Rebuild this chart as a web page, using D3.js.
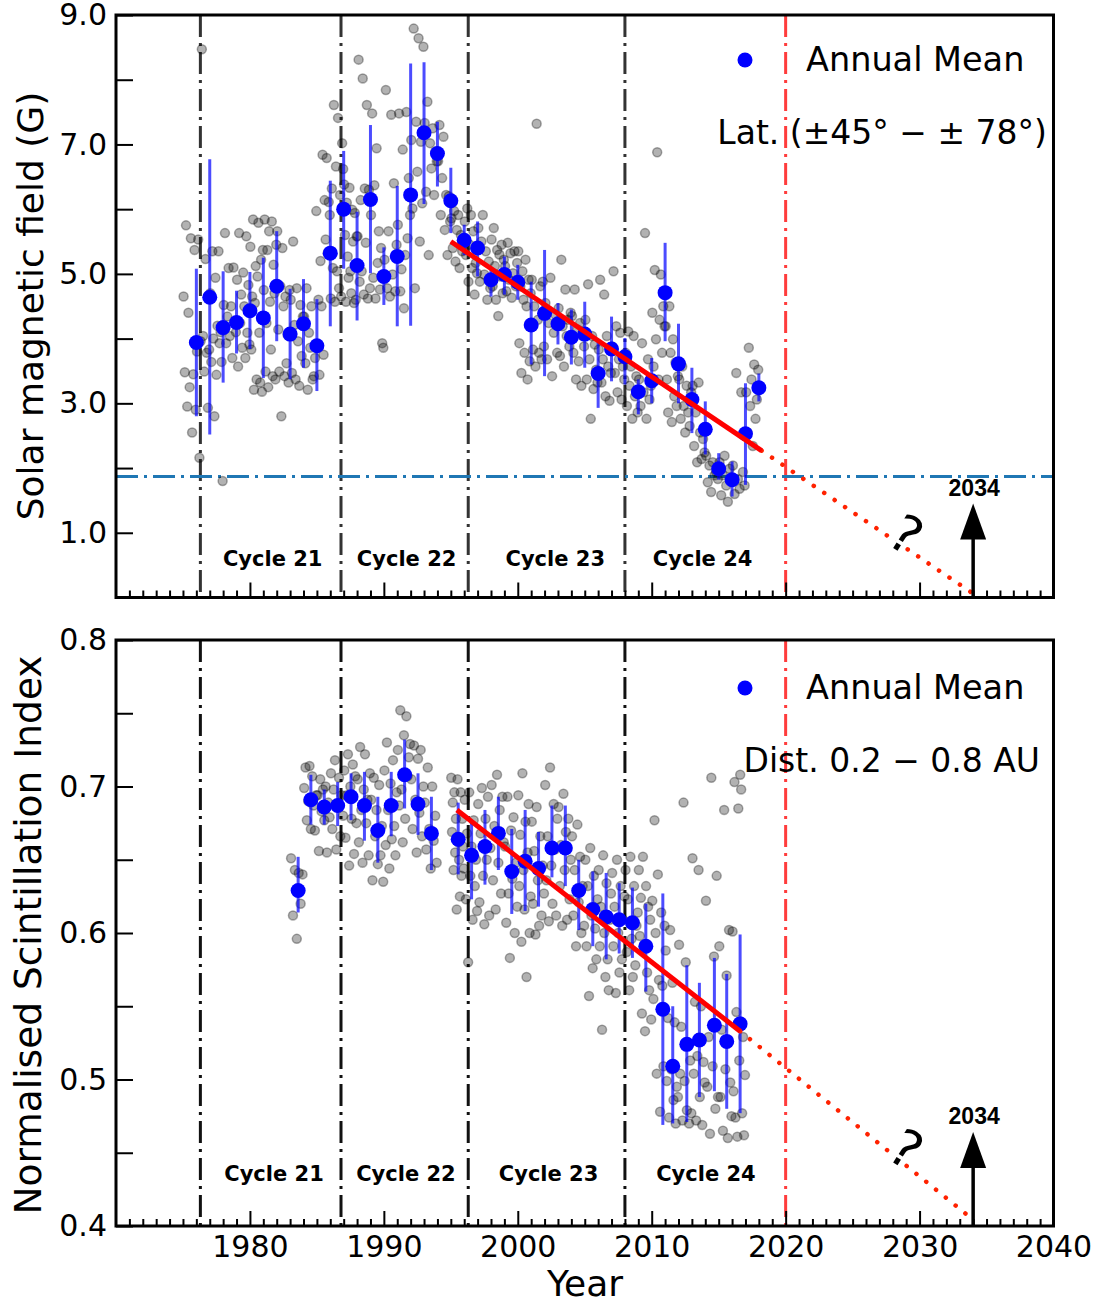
<!DOCTYPE html>
<html>
<head>
<meta charset="utf-8">
<script src="https://cdn.jsdelivr.net/npm/d3@7"></script>
<style>
  body { margin: 0; background: #fff; }
  text { font-family: "DejaVu Sans"; }
</style>
</head>
<body>
<div id="chart"></div>
<script>
// ---------------- data ----------------

// cycle minima and the 2020 marker
var cycleBounds = [1976.3, 1986.8, 1996.3, 2008.0];
var nowYear = 2020;
var cycleNames = ["Cycle 21", "Cycle 22", "Cycle 23", "Cycle 24"];

// top panel: solar polar field, annual means with error bars
var fieldYears = [1976, 1977, 1978, 1979, 1980, 1981, 1982, 1983, 1984, 1985,
  1986, 1987, 1988, 1989, 1990, 1991, 1992, 1993, 1994, 1995,
  1996, 1997, 1998, 1999, 2000, 2001, 2002, 2003, 2004, 2005,
  2006, 2007, 2008, 2009, 2010, 2011, 2012, 2013, 2014, 2015,
  2016, 2017, 2018];
var fieldMean = [3.94, 4.64, 4.17, 4.25, 4.43, 4.32, 4.81, 4.07, 4.23, 3.89,
  5.32, 6.00, 5.13, 6.15, 4.96, 5.27, 6.22, 7.18, 6.86, 6.13,
  5.52, 5.40, 4.91, 4.99, 4.87, 4.21, 4.39, 4.23, 4.02, 4.07,
  3.46, 3.84, 3.72, 3.18, 3.35, 4.71, 3.61, 3.06, 2.60, 1.99,
  1.82, 2.53, 3.24];
var fieldLow = [2.80, 2.52, 3.32, 3.77, 3.84, 3.39, 3.96, 3.37, 3.55, 3.19,
  4.19, 5.08, 4.28, 5.01, 4.52, 4.19, 4.20, 6.08, 6.35, 5.63,
  5.29, 4.96, 4.65, 4.68, 4.60, 3.60, 3.42, 3.91, 3.60, 3.55,
  2.93, 3.34, 3.29, 2.83, 3.00, 3.96, 3.00, 2.54, 2.21, 1.82,
  1.56, 1.74, 3.03];
var fieldHigh = [5.08, 6.77, 5.04, 4.74, 5.03, 5.25, 5.66, 4.77, 4.92, 4.61,
  6.44, 6.90, 5.96, 7.30, 5.41, 6.36, 8.25, 8.27, 7.35, 6.64,
  5.76, 5.81, 5.09, 5.27, 5.14, 4.88, 5.37, 4.55, 4.45, 4.57,
  3.98, 4.34, 4.01, 3.37, 3.70, 5.48, 4.23, 3.55, 3.03, 2.23,
  2.10, 3.31, 3.46];

// top panel: per-rotation values, one list per year starting 1975
var fieldScatterStart = 1975;
var fieldScatter = [
  [4.65, 3.48, 5.75, 2.95, 4.4, 3.25, 5.55, 2.55, 3.45, 5.37, 2.9],
  [3.8, 5.53, 2.16, 3.96, 8.47, 4.04, 3.49, 5.23, 3.78, 2.93, 3.83],
  [4.7, 3.64, 5.35, 4.0, 2.8, 4.94, 3.44, 4.2, 5.35, 3.93, 4.1, 3.64, 1.8],
  [4.52, 5.63, 3.93, 4.34, 5.09, 4.04, 4.5, 3.7, 5.1, 4.24, 4.1],
  [4.91, 3.57, 5.63, 4.24, 4.68, 3.86, 5.02, 4.5, 3.7, 5.58, 4.09, 4.83, 3.91],
  [5.42, 3.83, 4.65, 5.84, 3.21, 4.55, 5.12, 3.37, 4.96, 5.79, 4.09, 3.32, 5.22, 3.18, 5.37],
  [4.75, 5.84, 3.49, 4.24, 5.37, 3.25, 5.66, 4.57, 3.83, 5.81, 3.42, 5.14, 4.7, 3.37, 5.45],
  [5.66, 4.14, 3.49, 4.81, 2.8, 5.4, 4.5, 3.42, 4.65, 3.62, 4.06, 3.32, 4.75],
  [4.6, 3.47, 5.5, 4.21, 3.37, 4.78, 3.96, 3.27, 4.52, 3.73, 4.34],
  [4.34, 3.62, 4.78, 3.21, 4.09, 3.86, 4.5, 3.37, 3.42, 3.7, 5.97],
  [3.88, 4.6, 3.44, 5.2, 4.5, 6.84, 3.75, 6.14, 5.53, 6.79, 5.32, 6.11, 5.91],
  [4.62, 6.32, 5.09, 7.61, 4.57, 6.66, 5.04, 7.41, 4.78, 6.22, 4.65, 7.02, 6.62],
  [6.38, 5.6, 4.57, 6.1, 5.27, 4.94, 6.33, 5.04, 4.7, 5.99, 5.5, 4.55, 5.94, 4.6, 5.58],
  [5.58, 8.31, 4.88, 6.14, 5.04, 8.02, 4.68, 6.32, 5.48, 7.61, 4.62, 6.3, 4.78],
  [5.91, 7.48, 4.94, 6.37, 4.62, 6.94, 5.17, 5.66, 4.76, 5.4, 3.93, 3.86],
  [5.22, 7.84, 4.78, 5.66, 4.65, 7.46, 4.99, 6.4, 4.73, 5.45],
  [5.76, 7.48, 4.73, 5.07, 6.92, 4.47, 5.29, 7.5, 5.55, 6.48, 5.91],
  [7.07, 6.01, 8.79, 4.78, 7.35, 6.58, 8.64, 5.5, 7.04, 6.09, 8.51],
  [7.33, 6.27, 7.66, 5.29, 7.02, 6.63, 7.25, 6.22, 6.89, 6.74],
  [6.74, 7.3, 5.91, 6.48, 7.12, 5.68, 6.22, 5.29, 6.2, 5.81],
  [5.86, 5.4, 5.97, 5.19, 5.68, 5.91, 5.09, 5.6, 5.35, 5.45],
  [5.81, 5.29, 6.01, 4.88, 5.45, 5.91, 5.09, 5.66, 4.68, 5.17, 5.01],
  [5.71, 4.88, 5.5, 5.91, 4.99, 5.35, 4.6, 5.19, 4.78],
  [5.53, 4.81, 5.71, 5.12, 4.6, 5.37, 4.35, 5.3, 4.96, 5.45, 4.7, 5.22],
  [5.12, 4.73, 5.48, 4.91, 5.32, 4.63, 5.01, 5.35, 4.81, 5.17],
  [5.35, 3.93, 4.81, 3.47, 5.04, 4.6, 3.78, 5.22, 4.5, 3.37, 4.91, 3.65, 4.7],
  [4.91, 3.83, 4.5, 3.57, 7.32, 4.29, 3.78, 4.81, 3.68, 4.88, 3.88],
  [4.55, 3.68, 4.24, 4.94, 3.42, 4.09, 4.37, 3.78],
  [4.47, 3.73, 5.22, 4.19, 3.57, 4.76, 4.04, 4.29, 3.88, 4.4],
  [4.35, 3.78, 4.76, 3.37, 4.14, 3.65, 4.24, 3.27, 4.04, 3.88],
  [4.29, 3.37, 4.84, 3.68, 2.76, 4.04, 3.22, 3.91, 3.52, 3.32],
  [3.83, 4.91, 3.32, 3.68, 4.68, 3.11, 4.04, 3.57, 3.04, 3.47],
  [3.88, 5.04, 3.47, 4.19, 3.17, 3.68, 4.09, 3.06, 3.57, 3.37],
  [3.78, 2.96, 4.11, 3.27, 3.57, 2.76, 4.04, 3.11, 3.42, 2.86],
  [3.37, 2.96, 3.93, 3.17, 5.63, 2.76, 3.68, 3.06, 3.27],
  [4.4, 3.57, 5.06, 3.99, 6.88, 3.37, 4.29, 4.99, 3.78, 4.5, 4.19],
  [4.19, 3.37, 2.86, 4.5, 3.78, 2.71, 3.99, 3.11, 3.63, 2.96, 3.42],
  [3.37, 2.76, 3.57, 2.96, 2.55, 3.27, 2.86, 2.65, 3.17],
  [3.27, 2.34, 2.86, 2.09, 3.32, 2.55, 2.14, 2.45, 2.24],
  [2.19, 1.78, 2.04, 1.63, 2.09, 1.89, 1.94, 1.83],
  [2.09, 1.58, 1.89, 2.19, 1.73, 1.48, 1.99, 1.83],
  [2.04, 1.6, 3.47, 1.83, 1.68, 3.17, 1.94, 1.73],
  [3.17, 2.55, 3.86, 2.96, 3.37, 2.34, 3.6, 2.76, 3.06, 3.52]
];

// top panel: linear fit and its extrapolation to 2034
var fieldFit = [[1995.0, 5.50], [2018.2, 2.27]];
var fieldFitExt = [[2018.2, 2.27], [2034.0, 0.06]];
var fieldThreshold = 1.87;

// bottom panel: normalised scintillation index
var sciYears = [1983.6, 1984.55, 1985.55, 1986.55, 1987.55, 1988.55, 1989.55, 1990.55,
  1991.55, 1992.55, 1993.55, 1995.55, 1996.55, 1997.55, 1998.55, 1999.55, 2000.55,
  2001.55, 2002.55, 2003.55, 2004.55, 2005.6, 2006.6, 2007.57, 2008.56, 2009.56,
  2010.83, 2011.57, 2012.62, 2013.56, 2014.68, 2015.6, 2016.6];
var sciMean = [0.629, 0.691, 0.686, 0.687, 0.693, 0.687, 0.670, 0.687, 0.708, 0.688,
  0.668, 0.664, 0.653, 0.659, 0.668, 0.642, 0.649, 0.644, 0.658, 0.658, 0.629,
  0.616, 0.611, 0.609, 0.607, 0.591, 0.548, 0.509, 0.524, 0.527, 0.537, 0.526, 0.538];
var sciLow = [0.614, 0.674, 0.674, 0.673, 0.677, 0.663, 0.648, 0.666, 0.685, 0.667,
  0.643, 0.640, 0.623, 0.633, 0.643, 0.613, 0.615, 0.618, 0.638, 0.632, 0.602,
  0.591, 0.582, 0.586, 0.583, 0.560, 0.469, 0.470, 0.471, 0.488, 0.492, 0.480, 0.477];
var sciHigh = [0.652, 0.708, 0.698, 0.703, 0.709, 0.710, 0.693, 0.710, 0.732, 0.709,
  0.693, 0.689, 0.677, 0.684, 0.693, 0.671, 0.684, 0.669, 0.687, 0.687, 0.650,
  0.642, 0.641, 0.634, 0.631, 0.620, 0.627, 0.550, 0.578, 0.566, 0.583, 0.572, 0.599];

var sciScatterStart = 1983;
var sciScatter = [
  [0.651, 0.612, 0.643, 0.596, 0.641, 0.62, 0.64],
  [0.699, 0.713, 0.677, 0.69, 0.714, 0.671, 0.707, 0.687, 0.67, 0.694],
  [0.694, 0.656, 0.705, 0.683, 0.698, 0.677, 0.7, 0.655, 0.689, 0.679],
  [0.709, 0.671, 0.698, 0.718, 0.657, 0.687, 0.706, 0.666, 0.694, 0.68],
  [0.711, 0.665, 0.694, 0.722, 0.646, 0.7, 0.678, 0.715, 0.654, 0.707, 0.675],
  [0.705, 0.662, 0.727, 0.684, 0.648, 0.698, 0.722, 0.675, 0.691, 0.653, 0.709],
  [0.691, 0.636, 0.706, 0.666, 0.684, 0.647, 0.701, 0.653, 0.673, 0.635],
  [0.711, 0.66, 0.73, 0.684, 0.644, 0.702, 0.664, 0.718, 0.673, 0.653, 0.696],
  [0.725, 0.687, 0.752, 0.698, 0.662, 0.735, 0.678, 0.748, 0.707, 0.72, 0.729],
  [0.705, 0.671, 0.728, 0.691, 0.655, 0.719, 0.682, 0.725, 0.666, 0.7],
  [0.689, 0.657, 0.713, 0.671, 0.644, 0.7, 0.663, 0.68, 0.648],
  [],
  [0.706, 0.669, 0.689, 0.643, 0.696, 0.655, 0.678, 0.616, 0.705, 0.662, 0.65, 0.625, 0.696, 0.639, 0.678, 0.659, 0.644],
  [0.691, 0.623, 0.668, 0.58, 0.696, 0.639, 0.659, 0.609, 0.677, 0.632, 0.65, 0.615],
  [0.688, 0.621, 0.668, 0.699, 0.639, 0.606, 0.678, 0.65, 0.693, 0.612, 0.658],
  [0.701, 0.636, 0.673, 0.616, 0.708, 0.648, 0.684, 0.627, 0.693, 0.662],
  [0.659, 0.607, 0.693, 0.627, 0.583, 0.67, 0.637, 0.679, 0.6, 0.648, 0.618],
  [0.694, 0.632, 0.667, 0.594, 0.709, 0.643, 0.616, 0.676, 0.57, 0.655, 0.688, 0.6, 0.625],
  [0.676, 0.62, 0.656, 0.599, 0.686, 0.636, 0.605, 0.666, 0.612, 0.646, 0.627],
  [0.701, 0.636, 0.666, 0.608, 0.713, 0.646, 0.62, 0.688, 0.657, 0.612, 0.678],
  [0.686, 0.632, 0.66, 0.605, 0.695, 0.643, 0.669, 0.609, 0.678, 0.623, 0.65],
  [0.666, 0.612, 0.643, 0.591, 0.674, 0.621, 0.652, 0.6, 0.632, 0.605],
  [0.65, 0.591, 0.632, 0.557, 0.658, 0.612, 0.576, 0.639, 0.603, 0.582, 0.623],
  [0.643, 0.591, 0.618, 0.534, 0.653, 0.6, 0.57, 0.634, 0.582, 0.561, 0.609, 0.627],
  [0.641, 0.591, 0.618, 0.559, 0.65, 0.6, 0.573, 0.632, 0.582, 0.609, 0.625],
  [0.643, 0.587, 0.623, 0.561, 0.652, 0.596, 0.57, 0.632, 0.578, 0.605, 0.614],
  [0.643, 0.598, 0.624, 0.545, 0.652, 0.591, 0.533, 0.632, 0.573, 0.618, 0.561, 0.609, 0.541],
  [0.622, 0.555, 0.677, 0.6, 0.504, 0.64, 0.568, 0.478, 0.614, 0.564, 0.509, 0.605],
  [0.588, 0.499, 0.542, 0.474, 0.602, 0.507, 0.566, 0.486, 0.539, 0.47, 0.495, 0.488],
  [0.592, 0.504, 0.536, 0.472, 0.689, 0.499, 0.58, 0.479, 0.523, 0.47, 0.513, 0.477],
  [0.651, 0.504, 0.553, 0.472, 0.516, 0.643, 0.488, 0.55, 0.469, 0.512, 0.498],
  [0.622, 0.495, 0.529, 0.463, 0.706, 0.509, 0.584, 0.48, 0.639, 0.488],
  [0.591, 0.488, 0.534, 0.465, 0.684, 0.507, 0.571, 0.46, 0.602, 0.498, 0.475],
  [0.601, 0.492, 0.703, 0.474, 0.546, 0.461, 0.685, 0.513, 0.708, 0.698, 0.477, 0.529, 0.462, 0.503]
];

var sciFit = [[1995.45, 0.684], [2016.6, 0.533]];
var sciFitExt = [[2016.6, 0.533], [2033.9, 0.405]];

// ---------------- layout ----------------
var svgWidth = 1097;
var svgHeight = 1306;
var plotLeft = 116;
var plotRight = 1053.5;

var svg = d3
  .select("#chart")
  .append("svg")
  .attr("width", svgWidth)
  .attr("height", svgHeight)
  .style("background", "#fff");

var xScale = d3.scaleLinear().domain([1970, 2040]).range([plotLeft, plotRight]);

var majorYears = d3.range(1980, 2041, 10);
var minorYears = d3.range(1971, 2040).filter(function(d) { return d % 10 !== 0; });

/**
* Draw one panel: guides, scatter, annual means, fit and axes
*/
function drawPanel(p) {
  var y = p.y;
  var yBottom = y.range()[0];
  var yTop = y.range()[1];
  var g = svg.append("g");

  // cycle boundaries
  g.selectAll(".cycleLine")
    .data(cycleBounds)
    .enter()
    .append("line")
    .attr("x1", function(d) { return xScale(d); })
    .attr("x2", function(d) { return xScale(d); })
    .attr("y1", yTop)
    .attr("y2", yBottom)
    .attr("stroke", p.cycleColor)
    .attr("stroke-width", 3)
    .attr("stroke-dasharray", "22,6,3,6");

  // 2020 marker
  g.append("line")
    .attr("x1", xScale(nowYear))
    .attr("x2", xScale(nowYear))
    .attr("y1", yTop)
    .attr("y2", yBottom)
    .attr("stroke", "#ff1a1a")
    .attr("stroke-opacity", 0.85)
    .attr("stroke-width", 3)
    .attr("stroke-dasharray", "22,6,3,6");

  if (p.threshold !== undefined) {
    g.append("line")
      .attr("x1", plotLeft)
      .attr("x2", plotRight)
      .attr("y1", y(p.threshold))
      .attr("y2", y(p.threshold))
      .attr("stroke", "#1f77b4")
      .attr("stroke-width", 3)
      .attr("stroke-dasharray", "22,6,3,6");
  }

  // cycle labels
  g.selectAll(".cycleText")
    .data(p.cycleLabelYears)
    .enter()
    .append("text")
    .attr("x", function(d) { return xScale(d); })
    .attr("y", yBottom - p.cycleLabelOffset)
    .attr("text-anchor", "middle")
    .attr("font-size", 21)
    .attr("font-weight", "bold")
    .text(function(d, i) { return cycleNames[i]; });

  // per-rotation points, spread evenly through each year
  var pts = [];
  p.scatter.forEach(function(vals, i) {
    var yr = p.scatterStart + i;
    vals.forEach(function(v, j) {
      pts.push({ t: yr + (j + 0.5) / vals.length, v: v });
    });
  });
  g.selectAll(".dot")
    .data(pts)
    .enter()
    .append("circle")
    .attr("cx", function(d) { return xScale(d.t); })
    .attr("cy", function(d) { return y(d.v); })
    .attr("r", 4.5)
    .attr("fill", "#000")
    .attr("fill-opacity", 0.3)
    .attr("stroke", "#000")
    .attr("stroke-opacity", 0.32)
    .attr("stroke-width", 1.5);

  // error bars
  g.selectAll(".err")
    .data(p.years)
    .enter()
    .append("line")
    .attr("x1", function(d) { return xScale(d); })
    .attr("x2", function(d) { return xScale(d); })
    .attr("y1", function(d, i) { return y(p.low[i]); })
    .attr("y2", function(d, i) { return y(p.high[i]); })
    .attr("stroke", "#0000ff")
    .attr("stroke-opacity", 0.7)
    .attr("stroke-width", 3);

  // annual means
  g.selectAll(".mean")
    .data(p.years)
    .enter()
    .append("circle")
    .attr("cx", function(d) { return xScale(d); })
    .attr("cy", function(d, i) { return y(p.mean[i]); })
    .attr("r", 7.5)
    .attr("fill", "#0000ff");

  // fit and extrapolation
  var line = d3.line()
    .x(function(d) { return xScale(d[0]); })
    .y(function(d) { return y(d[1]); });

  g.append("path")
    .attr("d", line(p.fitExt))
    .attr("fill", "none")
    .attr("stroke", "#ff2200")
    .attr("stroke-width", 4.5)
    .attr("stroke-linecap", "round")
    .attr("stroke-dasharray", "0.1,12.5");

  g.append("path")
    .attr("d", line(p.fit))
    .attr("fill", "none")
    .attr("stroke", "#ff0000")
    .attr("stroke-width", 5);

  // question mark on the extrapolation
  g.append("text")
    .attr("transform", "translate(" + xScale(2029) + "," + (yBottom - p.qOffset) + ") rotate(32)")
    .attr("text-anchor", "middle")
    .attr("dy", "0.35em")
    .attr("font-size", 52)
    .attr("stroke", "#fff")
    .attr("stroke-width", 4)
    .attr("paint-order", "stroke")
    .text("?");

  // arrow pointing at 2034
  var ax = xScale(2034);
  g.append("line")
    .attr("x1", ax)
    .attr("x2", ax)
    .attr("y1", yBottom)
    .attr("y2", yBottom - 60)
    .attr("stroke", "#000")
    .attr("stroke-width", 3.5);
  g.append("path")
    .attr("d", "M" + ax + "," + (yBottom - 94) + "L" + (ax + 13) + "," + (yBottom - 58) +
      "L" + (ax - 13) + "," + (yBottom - 58) + "Z")
    .attr("fill", "#000");
  g.append("text")
    .attr("x", ax + 1)
    .attr("y", yBottom - 102)
    .attr("text-anchor", "middle")
    .attr("font-weight", "bold")
    .attr("font-size", 23)
    .style("font-family", "Liberation Sans")
    .text("2034");

  // legend
  g.append("circle")
    .attr("cx", 745)
    .attr("cy", yTop + p.legendOffset)
    .attr("r", 7.5)
    .attr("fill", "#0000ff");
  g.append("text")
    .attr("x", 806)
    .attr("y", yTop + p.legendOffset + 11)
    .attr("font-size", 33.5)
    .text("Annual Mean");
  g.append("text")
    .attr("x", p.noteRight)
    .attr("y", yTop + p.legendOffset + 84)
    .attr("text-anchor", "end")
    .attr("font-size", 33)
    .text(p.note);

  // axes with inward ticks
  var xMajor = d3.axisBottom(xScale).tickValues(majorYears).tickSize(-15).tickPadding(10)
    .tickFormat(p.showYears ? d3.format("d") : function() { return ""; });
  var xMinor = d3.axisBottom(xScale).tickValues(minorYears).tickSize(-7).tickFormat("");
  var yAxis = d3.axisLeft(y).tickValues(p.yTicks).tickSize(-17).tickPadding(9)
    .tickFormat(p.yFormat);

  [xMajor, xMinor].forEach(function(ax) {
    svg.append("g")
      .attr("class", "axis")
      .attr("transform", "translate(0," + yBottom + ")")
      .call(ax);
  });
  svg.append("g")
    .attr("class", "axis")
    .attr("transform", "translate(" + plotLeft + ",0)")
    .call(yAxis);

  // frame
  svg.append("rect")
    .attr("x", plotLeft)
    .attr("y", yTop)
    .attr("width", plotRight - plotLeft)
    .attr("height", yBottom - yTop)
    .attr("fill", "none")
    .attr("stroke", "#000")
    .attr("stroke-width", 3);

  // y title
  svg.append("text")
    .attr("transform", "translate(" + p.titleX + "," + p.titleY + ") rotate(-90)")
    .attr("text-anchor", "middle")
    .attr("dy", "0.35em")
    .attr("font-size", p.titleSize)
    .text(p.title);
}

var yField = d3.scaleLinear().domain([0, 9]).range([597.5, 15]);
var ySci = d3.scaleLinear().domain([0.4, 0.8]).range([1226, 640]);

drawPanel({
  y: yField,
  years: fieldYears, mean: fieldMean, low: fieldLow, high: fieldHigh,
  scatter: fieldScatter, scatterStart: fieldScatterStart,
  fit: fieldFit, fitExt: fieldFitExt,
  threshold: fieldThreshold,
  cycleColor: "#333",
  cycleLabelYears: [1981.7, 1991.7, 2002.8, 2013.8],
  cycleLabelOffset: 32,
  qOffset: 63,
  legendOffset: 45,
  note: "Lat. (\u00b145\u00b0 \u2212 \u00b1 78\u00b0)",
  noteRight: 1047,
  yTicks: d3.range(1, 10),
  yFormat: function(d) { return d % 2 === 1 ? d3.format(".1f")(d) : ""; },
  showYears: false,
  title: "Solar magnetic field (G)",
  titleX: 30,
  titleY: 306,
  titleSize: 36
});

drawPanel({
  y: ySci,
  years: sciYears, mean: sciMean, low: sciLow, high: sciHigh,
  scatter: sciScatter, scatterStart: sciScatterStart,
  fit: sciFit, fitExt: sciFitExt,
  cycleColor: "#111",
  cycleLabelYears: [1981.8, 1991.65, 2002.3, 2014.05],
  cycleLabelOffset: 45,
  qOffset: 77,
  legendOffset: 48,
  note: "Dist. 0.2 \u2212 0.8 AU",
  noteRight: 1040,
  yTicks: d3.range(0, 9).map(function(i) { return 0.4 + i * 0.05; }),
  yFormat: function(d) { return Math.round(d * 100) % 10 === 0 ? d3.format(".1f")(d) : ""; },
  showYears: true,
  title: "Normalised Scintillation Index",
  titleX: 28,
  titleY: 935,
  titleSize: 37.5
});

// style axes
svg.selectAll(".axis .domain").remove();
svg.selectAll(".axis line").attr("stroke", "#000").attr("stroke-width", 2);
svg.selectAll(".axis text")
  .attr("fill", "#000")
  .style("font-family", "DejaVu Sans")
  .style("font-size", "30px");

// x title
svg.append("text")
  .attr("x", 585)
  .attr("y", 1296)
  .attr("text-anchor", "middle")
  .attr("font-size", 36)
  .text("Year");
</script>
</body>
</html>
